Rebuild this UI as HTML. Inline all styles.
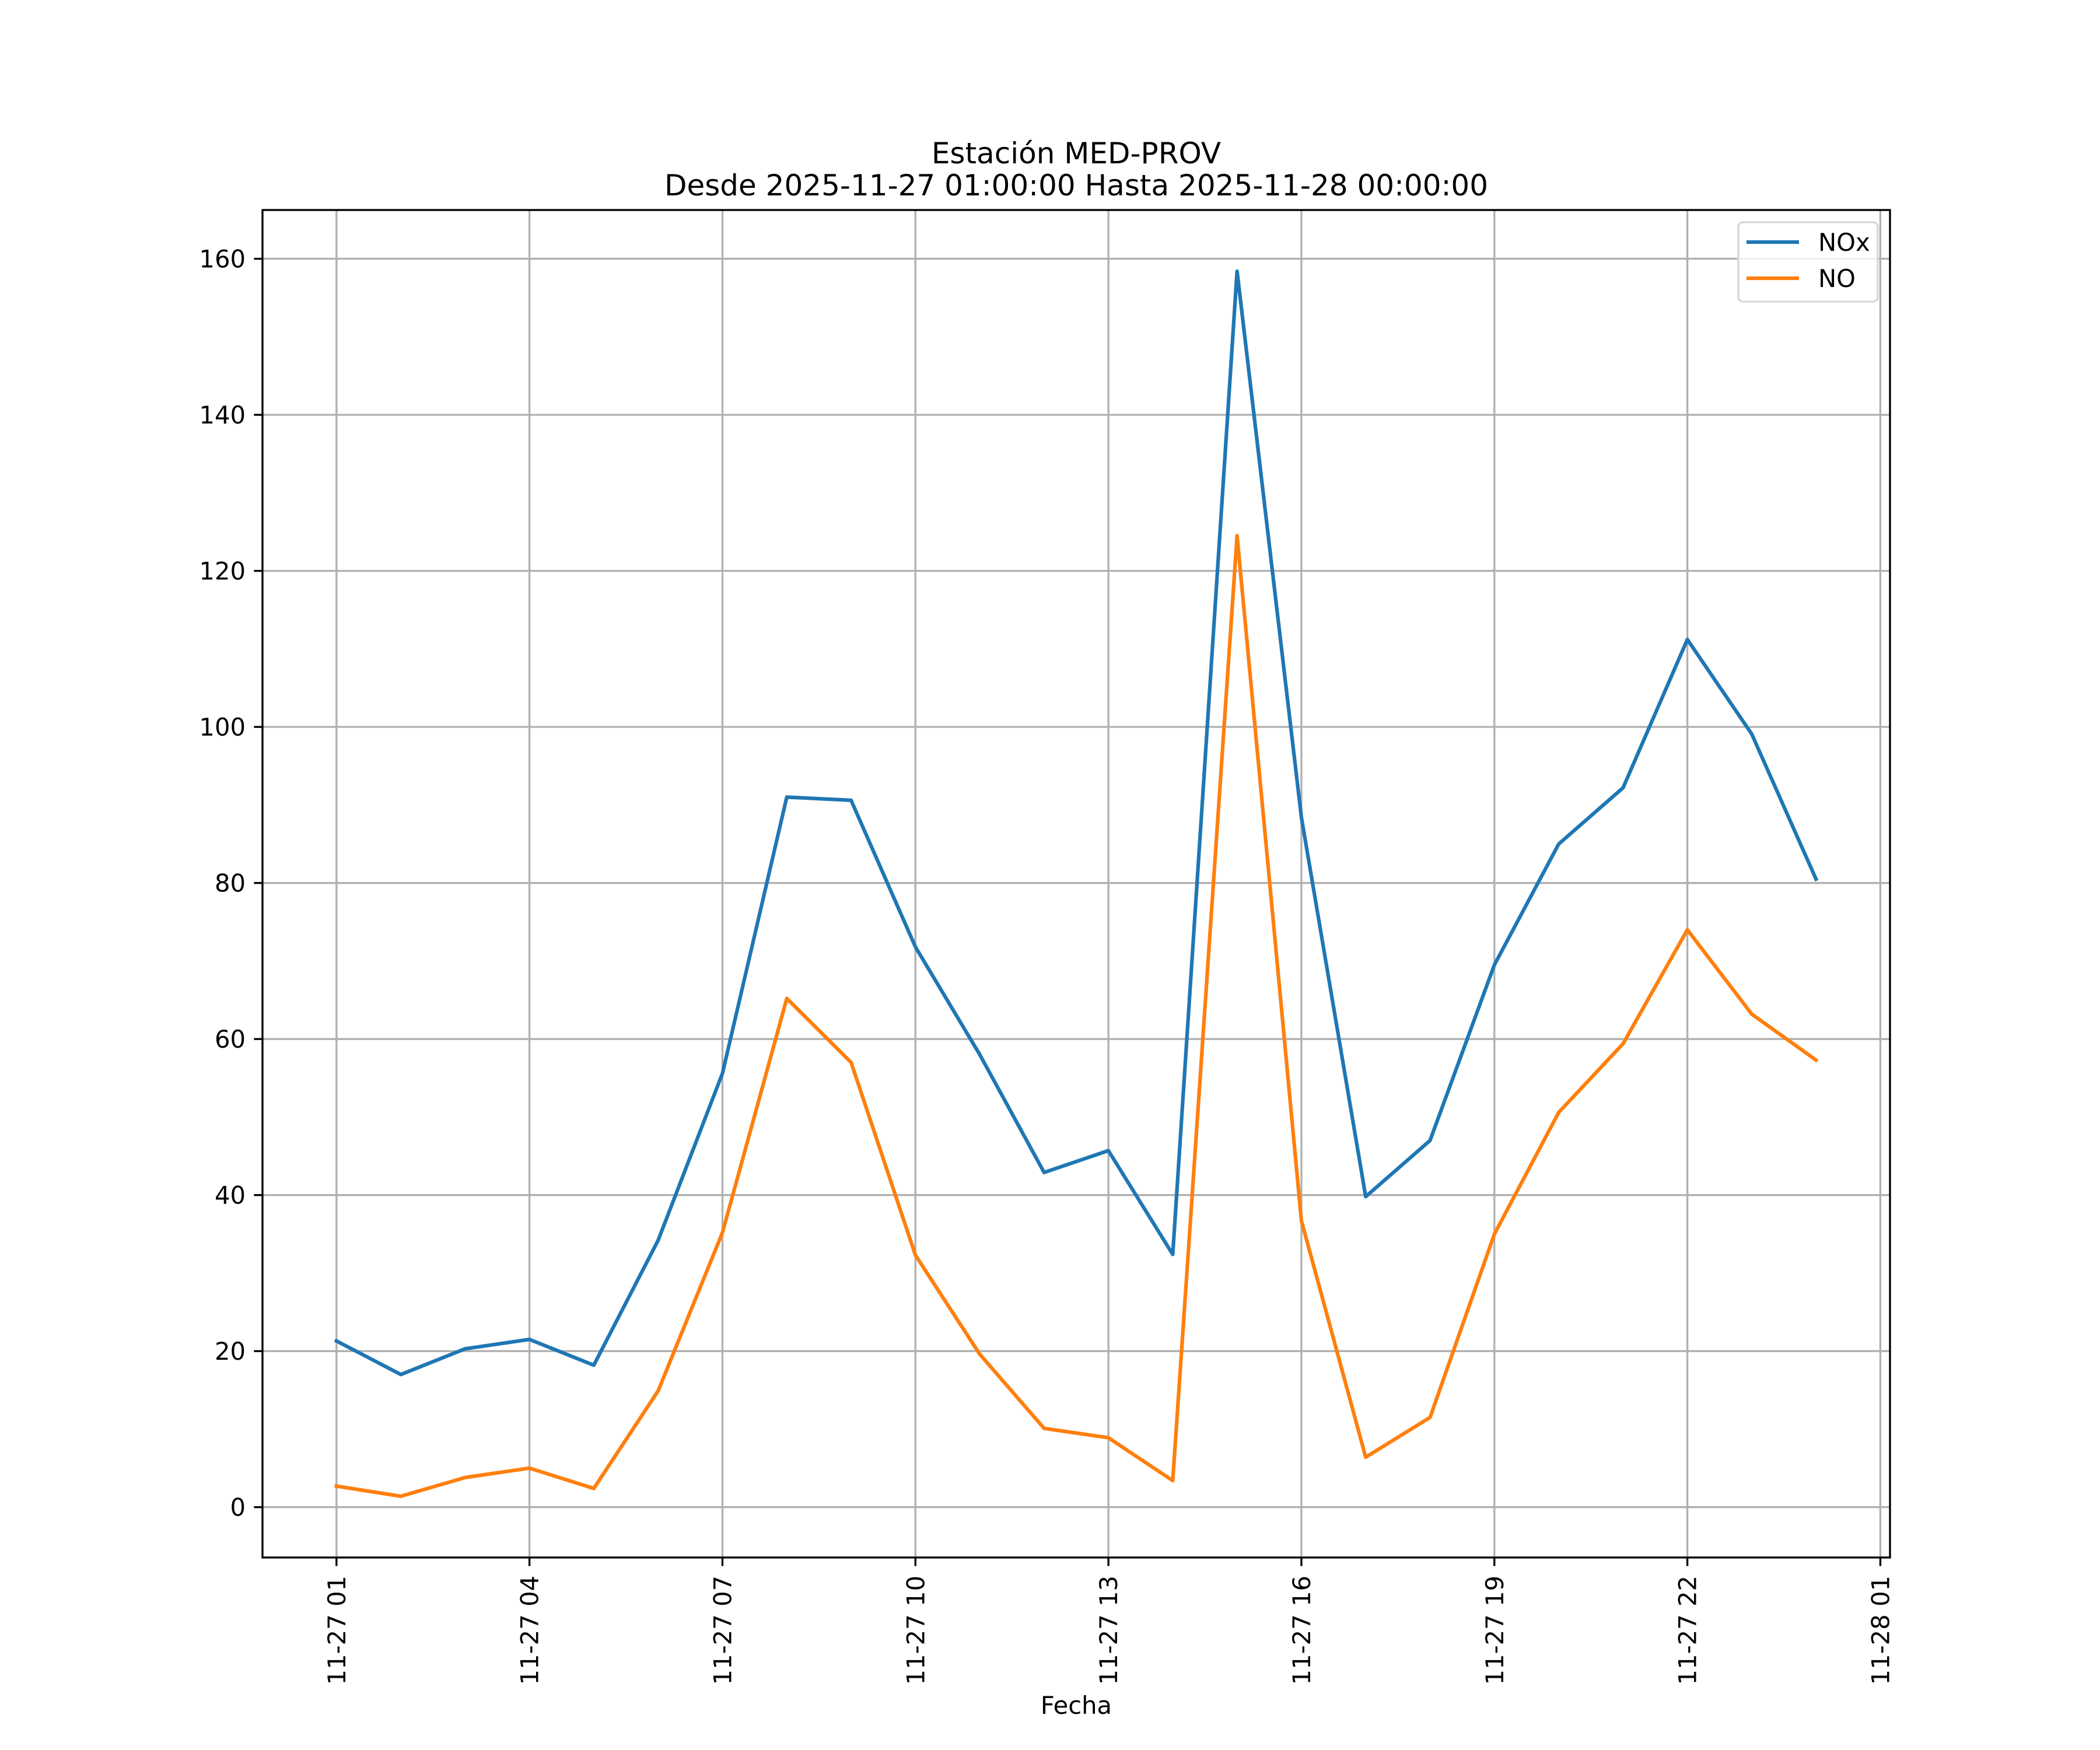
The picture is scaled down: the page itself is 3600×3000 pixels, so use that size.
<!DOCTYPE html>
<html><head><meta charset="utf-8"><style>
html,body{margin:0;padding:0;background:#fff;}
svg{display:block;}
text{font-family:"DejaVu Sans","Liberation Sans",sans-serif;fill:#000;}
</style></head><body>
<svg id="chart" width="3600" height="3000" viewBox="0 0 3600 3000" xmlns="http://www.w3.org/2000/svg">
<rect width="3600" height="3000" fill="#fff"/>
<g id="grid"></g>
<g id="series"></g>
<rect x="450" y="360" width="2790" height="2310" fill="none" stroke="#000" stroke-width="3.33"/>
<g id="ticks"></g>
<text x="1845" y="280" font-size="50" text-anchor="middle">Estación MED-PROV</text>
<text x="1845" y="335" font-size="50" text-anchor="middle">Desde 2025-11-27 01:00:00 Hasta 2025-11-28 00:00:00</text>
<text x="1845" y="2938" font-size="41.7" text-anchor="middle">Fecha</text>
<g>
<rect x="2980" y="381" width="239" height="136" rx="8" fill="#fff" fill-opacity="0.8" stroke="#d6d6d6" stroke-width="3.33"/>
<line x1="2994" y1="415" x2="3084" y2="415" stroke="#1f77b4" stroke-width="6.25"/>
<text x="3117" y="430" font-size="41.7">NOx</text>
<line x1="2994" y1="477" x2="3084" y2="477" stroke="#ff7f0e" stroke-width="6.25"/>
<text x="3117" y="492" font-size="41.7">NO</text>
</g>
</svg>
<script>
const hours = [1,2,3,4,5,6,7,8,9,10,11,12,13,14,15,16,17,18,19,20,21,22,23,24];
const noxValues = [21.3,17.0,20.3,21.5,18.2,34.2,55.6,91.0,90.6,71.8,58.0,42.9,45.7,32.4,158.4,88.4,39.8,47.0,69.5,85.0,92.2,111.2,99.1,80.5];
const noValues = [2.7,1.4,3.8,5.0,2.4,14.9,35.2,65.2,57.0,32.3,19.6,10.1,8.9,3.4,124.5,36.7,6.4,11.5,35.0,50.6,59.4,74.0,63.2,57.3];
const xTickHours = [1,4,7,10,13,16,19,22,25];
const xTickLabels = ["11-27 01","11-27 04","11-27 07","11-27 10","11-27 13","11-27 16","11-27 19","11-27 22","11-28 01"];
const yTicks = [0,20,40,60,80,100,120,140,160];

const NS = "http://www.w3.org/2000/svg";
const L=450,R=3240,T=360,B=2670;
const xmin=hours[0], xmax=hours[hours.length-1];
const xpad=(xmax-xmin)*0.05;
const allV=noxValues.concat(noValues);
const vmin=Math.min(...allV), vmax=Math.max(...allV);
const ypad=(vmax-vmin)*0.05;
const x0=xmin-xpad, x1=xmax+xpad, y0=vmin-ypad, y1=vmax+ypad;
function xs(h){return L+(h-x0)/(x1-x0)*(R-L);}
function ys(v){return B-(v-y0)/(y1-y0)*(B-T);}
function mk(tag,attrs,parent){const e=document.createElementNS(NS,tag);for(const k in attrs)e.setAttribute(k,attrs[k]);parent.appendChild(e);return e;}
const grid=document.getElementById('grid'), ticks=document.getElementById('ticks'), series=document.getElementById('series');

xTickHours.forEach((h,i)=>{
  const x=xs(h);
  const g=mk('line',{x1:x,y1:T,x2:x,y2:B,stroke:'#b0b0b0','stroke-width':3.33},grid);
  
  
  const t=mk('line',{x1:x,y1:B,x2:x,y2:B+14.6,stroke:'#000','stroke-width':3.33},ticks);
  
  
  const lb=mk('text',{x:0,y:0,'font-size':41.7,'text-anchor':'end',transform:`translate(${x+15},${B+31}) rotate(-90)`},ticks);
  lb.textContent=xTickLabels[i];
  
  
});
yTicks.forEach(v=>{
  const y=ys(v);
  const g=mk('line',{x1:L,y1:y,x2:R,y2:y,stroke:'#b0b0b0','stroke-width':3.33},grid);
  
  
  const t=mk('line',{x1:L-14.6,y1:y,x2:L,y2:y,stroke:'#000','stroke-width':3.33},ticks);
  
  
  const lb=mk('text',{x:L-29,y:y+15,'font-size':41.7,'text-anchor':'end'},ticks);
  lb.textContent=String(v);
  
  
});
function drawLine(vals,color,name){
  const pts=vals.map((v,i)=>xs(hours[i]).toFixed(1)+','+ys(v).toFixed(1)).join(' ');
  const p=mk('polyline',{points:pts,fill:'none',stroke:color,'stroke-width':6.25,'stroke-linejoin':'round','stroke-linecap':'square'},series);
  
  
}
drawLine(noxValues,'#1f77b4','nox-line');
drawLine(noValues,'#ff7f0e','no-line');
</script>
</body></html>
